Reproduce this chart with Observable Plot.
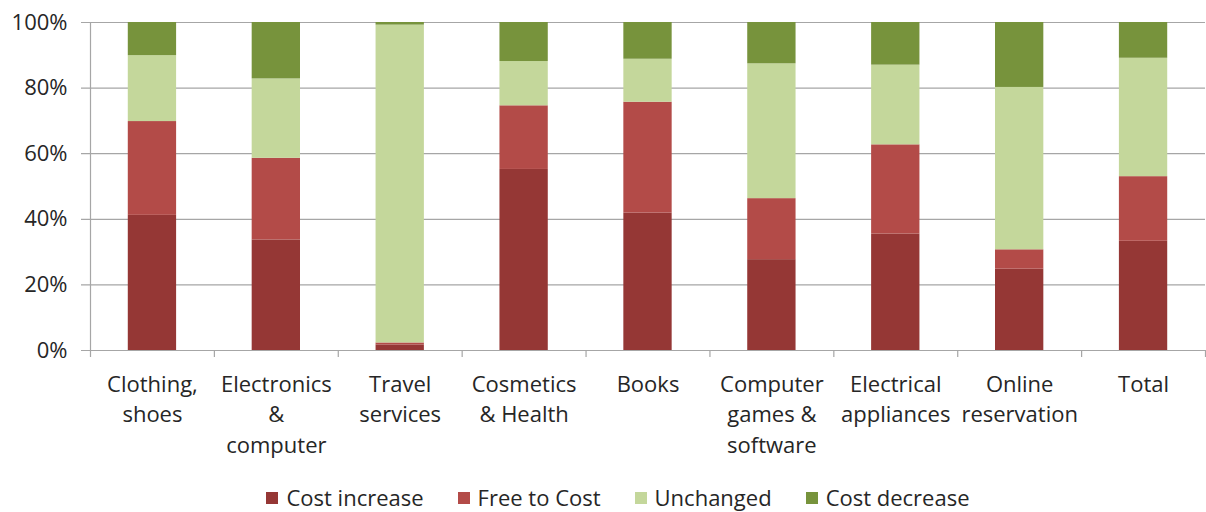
<!DOCTYPE html>
<html>
<head>
<meta charset="utf-8">
<script src="https://cdn.jsdelivr.net/npm/d3@7"></script>
<script src="https://cdn.jsdelivr.net/npm/@observablehq/plot@0.6"></script>
<style>
  body { margin: 0; background: #fff; font-family: "Open Sans", sans-serif; color: #262626; }
  #chart svg { display: block; overflow: visible; }
  #legend { display: flex; justify-content: center; align-items: center; padding-left: 30px; margin-top: 7px; height: 40px; font-size: 22px; color: #262626; }
  #legend .item { display: flex; align-items: center; margin: 0 17px; }
  #legend .sw { width: 12px; height: 12px; margin-right: 8px; margin-top: 2px; }
</style>
</head>
<body>
<div id="chart"></div>
<div id="legend"></div>
<script>
const categories = ["Clothing,\nshoes", "Electronics\n&\ncomputer", "Travel\nservices", "Cosmetics\n& Health", "Books", "Computer\ngames &\nsoftware", "Electrical\nappliances", "Online\nreservation", "Total"];
const seriesNames = ["Cost increase", "Free to Cost", "Unchanged", "Cost decrease"];
const costIncrease = [41.2, 33.7, 1.7, 55.2, 41.9, 27.7, 35.5, 24.8, 33.3];
const freeToCost   = [28.6, 24.9, 0.6, 19.4, 33.8, 18.6, 27.2, 5.9, 19.7];
const unchanged    = [20.1, 24.2, 96.9, 13.5, 13.1, 41.1, 24.3, 49.5, 36.1];
const costDecrease = [10.1, 17.2, 0.8, 11.9, 11.2, 12.6, 13.0, 19.8, 10.9];
const yTicks = [0, 20, 40, 60, 80, 100];
const colors = ["#953735", "#B34B48", "#C4D79B", "#77933C"];

const seriesValues = [costIncrease, freeToCost, unchanged, costDecrease];
const rows = [];
categories.forEach((c, i) => {
  let base = 0;
  seriesValues.forEach((vals, s) => {
    rows.push({i, category: c, series: seriesNames[s], y1: base, y2: base + vals[i]});
    base += vals[i];
  });
});
const half = 0.195;
const boundaries = d3.range(categories.length + 1);

const chart = Plot.plot({
  width: 1206,
  height: 470,
  marginLeft: 90,
  marginRight: 1,
  marginTop: 22,
  marginBottom: 120,
  style: {fontFamily: "Open Sans, sans-serif", fontSize: "22px", color: "#262626", background: "#fff"},
  x: {type: "linear", domain: [0, categories.length], axis: null},
  y: {type: "linear", domain: [0, 100], axis: null},
  color: {domain: seriesNames, range: colors},
  marks: [
    Plot.ruleY(yTicks.filter(d => d > 0), {stroke: "#a6a6a6", strokeWidth: 1.2, insetLeft: -9}),
    Plot.rect(rows, {x1: d => d.i + 0.5 - half, x2: d => d.i + 0.5 + half, y1: "y1", y2: "y2", fill: "series"}),
    Plot.ruleX([0], {y1: 0, y2: 100, stroke: "#a6a6a6", strokeWidth: 1.2}),
    Plot.ruleY([0], {stroke: "#a6a6a6", strokeWidth: 1.2, insetLeft: -9}),
    Plot.ruleX(boundaries, {x: d => d, y1: 0, y2: 0, stroke: "#a6a6a6", strokeWidth: 1.2, insetBottom: -7}),
    Plot.text(yTicks, {x: 0, y: d => d, text: d => d + "%", textAnchor: "end", dx: -23, fill: "#262626", fontSize: 22}),
    Plot.text(categories, {x: (d, i) => i + 0.5, y: 0, text: d => d, lineAnchor: "top", dy: 20, lineHeight: 1.38, fill: "#262626", fontSize: 22})
  ]
});
document.getElementById("chart").appendChild(chart);

const legend = document.getElementById("legend");
seriesNames.forEach((name, s) => {
  const item = document.createElement("div");
  item.className = "item";
  const sw = document.createElement("div");
  sw.className = "sw";
  sw.style.background = colors[s];
  const label = document.createElement("span");
  label.textContent = name;
  item.appendChild(sw);
  item.appendChild(label);
  legend.appendChild(item);
});
</script>
</body>
</html>
